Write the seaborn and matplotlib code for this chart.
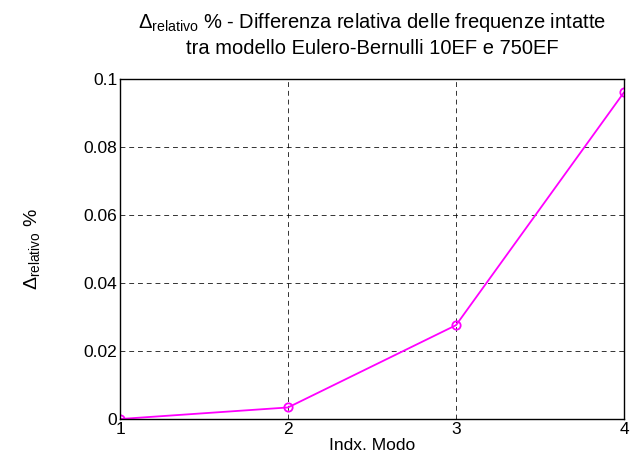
import matplotlib
matplotlib.use("Agg")
import matplotlib.pyplot as plt
import seaborn as sns
import pandas as pd

# Relative frequency difference per mode
modes = [1, 2, 3, 4]
delta_rel = [0.0, 0.0034, 0.0276, 0.0961]
x_ticks = [1, 2, 3, 4]
y_ticks = [0, 0.02, 0.04, 0.06, 0.08, 0.1]
y_tick_labels = ["0", "0.02", "0.04", "0.06", "0.08", "0.1"]

sns.set_style("white")
plt.rcParams["font.family"] = ["Liberation Sans", "DejaVu Sans"]
plt.rcParams["mathtext.fontset"] = "custom"
plt.rcParams["mathtext.rm"] = "Liberation Sans"
plt.rcParams["mathtext.it"] = "Liberation Sans"
plt.rcParams["text.color"] = "black"
plt.rcParams["axes.labelcolor"] = "black"
plt.rcParams["xtick.color"] = "black"
plt.rcParams["ytick.color"] = "black"

df = pd.DataFrame({"modo": modes, "delta": delta_rel})

fig = plt.figure(figsize=(6.36, 4.65), dpi=100)
ax = fig.add_axes([0.1887, 0.0989, 0.7925, 0.7312])

sns.lineplot(data=df, x="modo", y="delta", ax=ax, color="#ff00ff", lw=1.3,
             marker="o", markersize=6, markerfacecolor="none",
             markeredgecolor="#ff00ff", markeredgewidth=1.3)

ax.set_xlim(1, 4)
ax.set_ylim(0, 0.1)
ax.set_xticks(x_ticks)
ax.set_xticklabels([str(t) for t in x_ticks])
ax.set_yticks(y_ticks)
ax.set_yticklabels(y_tick_labels)
ax.tick_params(direction="in", length=3, width=0.8, labelsize=12.5, pad=2,
               colors="black", labelcolor="black")
ax.grid(True, color="black", linestyle=(0, (5, 4)), linewidth=0.7, alpha=0.8)
for s in ax.spines.values():
    s.set_color("black")
    s.set_linewidth(1.0)

ax.set_xlabel("Indx. Modo", fontsize=12.5, labelpad=1, color="black")
ax.set_ylabel(r"$\Delta_{\mathrm{relativo}}$ %", fontsize=14, labelpad=30, color="black")
ax.set_title(r"$\Delta_{\mathrm{relativo}}$ % - Differenza relativa delle frequenze intatte"
             "\ntra modello Eulero-Bernulli 10EF e 750EF",
             fontsize=14.5, pad=18, linespacing=1.35, color="black")

fig.savefig("out.png", dpi=100)
